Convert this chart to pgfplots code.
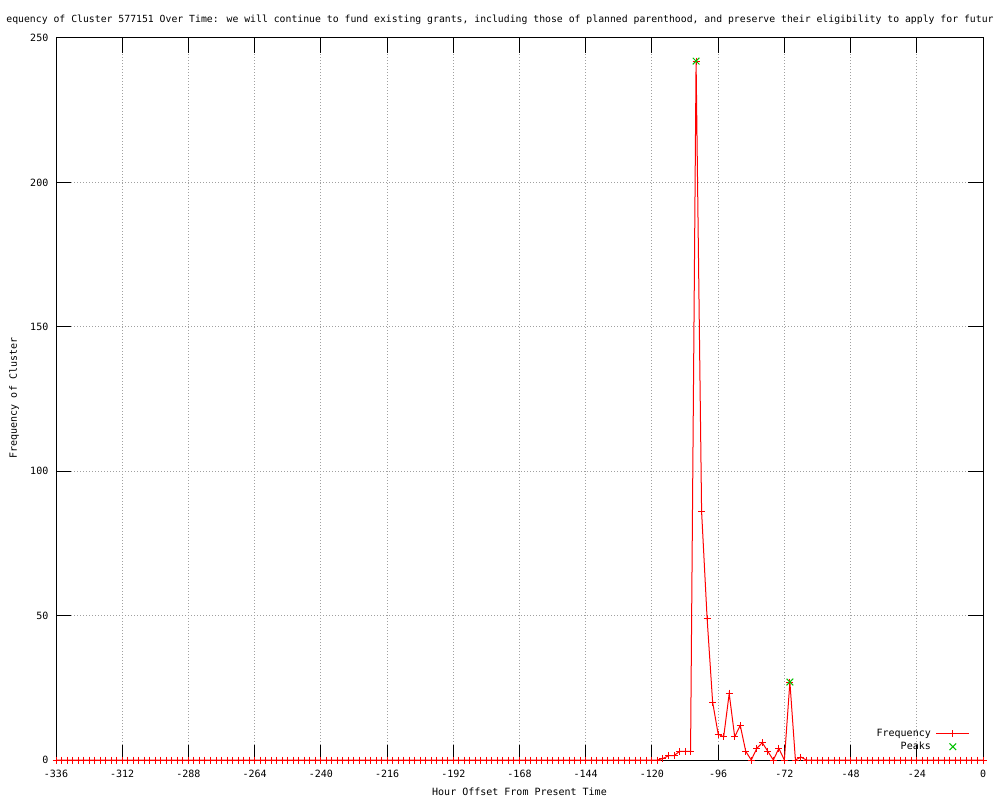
\documentclass[border=0pt]{standalone}
\usepackage{pgfplots}
\pgfplotsset{compat=1.18}
\usepackage{fontspec}
\setmainfont{DejaVu Sans Mono}
\definecolor{gpred}{RGB}{255,0,0}
\definecolor{gpgreen}{RGB}{0,192,0}
\definecolor{gpgrid}{RGB}{160,160,160}
\begin{document}
\begin{tikzpicture}[x=1pt,y=1pt,font=\fontsize{10}{12}\selectfont]
\path[use as bounding box] (0,0) rectangle (1000,800);
\begin{axis}[
  at={(56pt,40pt)}, anchor=south west,
  scale only axis, width=927pt, height=722pt,
  xmin=-336, xmax=0, ymin=0, ymax=250,
  xtick={-336,-312,...,0},
  xticklabels={-336,-312,-288,-264,-240,-216,-192,-168,-144,-120,-96,-72,-48,-24,0},
  ytick={0,50,...,250},
  yticklabels={0,50,100,150,200,250},
  tick pos=both, tick align=inside,
  major tick length=15pt,
  tick style={black, line width=1pt},
  axis line style={black, line width=1pt},
  grid=major,
  major grid style={gpgrid, line width=1pt, dash pattern=on 1pt off 2pt},
  xticklabel style={anchor=base, yshift=-17.5pt, inner sep=0pt},
  yticklabel style={anchor=east, inner sep=0pt, xshift=-7.5pt},
  legend style={draw=none, fill=none, at={(0.986,0.044)}, anchor=north east,
    inner sep=0pt, row sep=2pt, column sep=4pt, nodes={inner sep=1pt}},
  legend cell align=right,
  legend plot pos=right,
  legend image code/.code={\draw[mark repeat=2,mark phase=2] plot coordinates {(0pt,0pt) (16.5pt,0pt) (33pt,0pt)};},
]
\addplot[color=gpred, line width=1pt, mark=+, mark size=3.5pt, mark options={solid, line width=1pt}] coordinates {
(-336,0) (-334,0) (-332,0) (-330,0) (-328,0) (-326,0) (-324,0) (-322,0) (-320,0) (-318,0)
(-316,0) (-314,0) (-312,0) (-310,0) (-308,0) (-306,0) (-304,0) (-302,0) (-300,0) (-298,0)
(-296,0) (-294,0) (-292,0) (-290,0) (-288,0) (-286,0) (-284,0) (-282,0) (-280,0) (-278,0)
(-276,0) (-274,0) (-272,0) (-270,0) (-268,0) (-266,0) (-264,0) (-262,0) (-260,0) (-258,0)
(-256,0) (-254,0) (-252,0) (-250,0) (-248,0) (-246,0) (-244,0) (-242,0) (-240,0) (-238,0)
(-236,0) (-234,0) (-232,0) (-230,0) (-228,0) (-226,0) (-224,0) (-222,0) (-220,0) (-218,0)
(-216,0) (-214,0) (-212,0) (-210,0) (-208,0) (-206,0) (-204,0) (-202,0) (-200,0) (-198,0)
(-196,0) (-194,0) (-192,0) (-190,0) (-188,0) (-186,0) (-184,0) (-182,0) (-180,0) (-178,0)
(-176,0) (-174,0) (-172,0) (-170,0) (-168,0) (-166,0) (-164,0) (-162,0) (-160,0) (-158,0)
(-156,0) (-154,0) (-152,0) (-150,0) (-148,0) (-146,0) (-144,0) (-142,0) (-140,0) (-138,0)
(-136,0) (-134,0) (-132,0) (-130,0) (-128,0) (-126,0) (-124,0) (-122,0) (-120,0) (-118,0)
(-116,0.5) (-114,1.5) (-112,1.5) (-110,3) (-108,3) (-106,3) (-104,242) (-102,86) (-100,49) (-98,20)
(-96,9) (-94,8) (-92,23) (-90,8) (-88,12) (-86,3) (-84,0) (-82,4) (-80,6) (-78,3)
(-76,0) (-74,4) (-72,0) (-70,27) (-68,0) (-66,1)
(-64,0) (-62,0) (-60,0) (-58,0) (-56,0) (-54,0) (-52,0) (-50,0) (-48,0) (-46,0)
(-44,0) (-42,0) (-40,0) (-38,0) (-36,0) (-34,0) (-32,0) (-30,0) (-28,0) (-26,0)
(-24,0) (-22,0) (-20,0) (-18,0) (-16,0) (-14,0) (-12,0) (-10,0) (-8,0) (-6,0)
(-4,0) (-2,0) (0,0)
};
\addlegendentry{Frequency}
\addplot[only marks, color=gpgreen, mark=x, mark size=4.7pt, mark options={line width=1pt}] coordinates {(-104,242) (-70,27)};
\addlegendentry{Peaks}
\end{axis}
\node[anchor=base, font=\fontsize{9.8}{12}\selectfont] at (500,777) {equency of Cluster 577151 Over Time: we will continue to fund existing grants, including those of planned parenthood, and preserve their eligibility to apply for futur};
\node[anchor=base] at (519.5,4.3) {Hour Offset From Present Time};
\node[anchor=base, rotate=90] at (17,402) {Frequency of Cluster};
\end{tikzpicture}
\end{document}
